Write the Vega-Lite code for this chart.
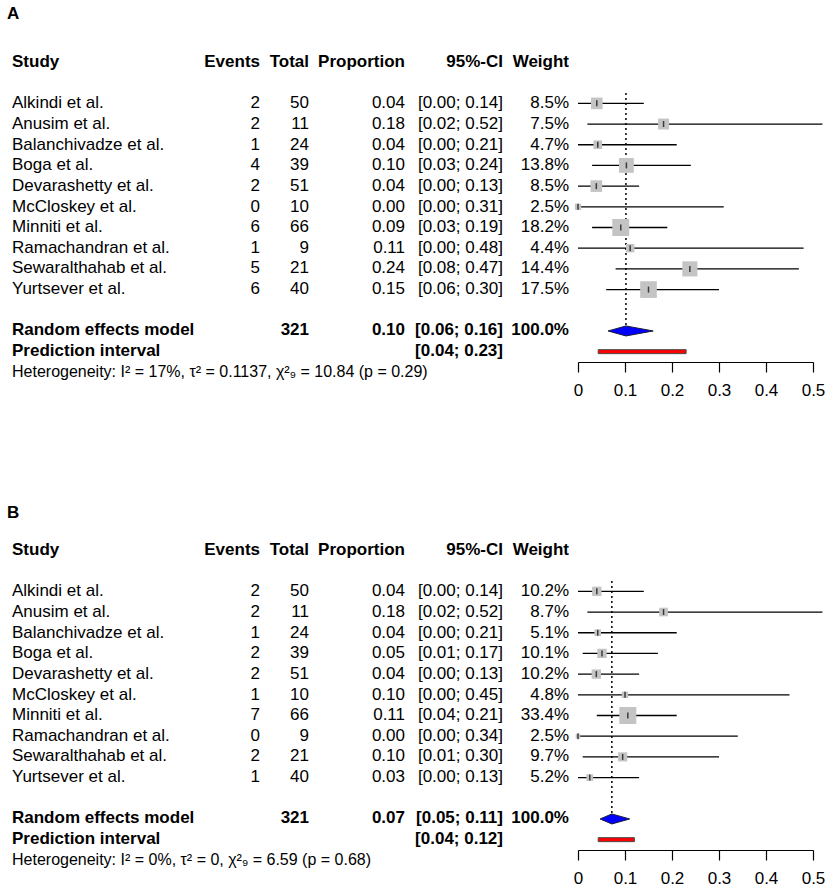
{
  "$schema": "https://vega.github.io/schema/vega-lite/v6.json",
  "padding": {"left": 7, "top": 5, "right": 5, "bottom": 5},
  "background": "white",
  "config": {
    "view": {"stroke": null},
    "text": {"font": "Liberation Sans", "fontSize": 17, "baseline": "middle", "color": "black"},
    "title": {"font": "Liberation Sans", "fontSize": 17, "fontWeight": "bold", "color": "black"}
  },
  "datasets": {
    "rows": [
      {"panel": "A", "row": 2, "kind": "study", "label": "Alkindi et al.", "events": 2, "total": 50, "prop": 0.04, "lo": 0.0, "hi": 0.14, "weight": 0.085},
      {"panel": "A", "row": 3, "kind": "study", "label": "Anusim et al.", "events": 2, "total": 11, "prop": 0.182, "lo": 0.02, "hi": 0.52, "weight": 0.075},
      {"panel": "A", "row": 4, "kind": "study", "label": "Balanchivadze et al.", "events": 1, "total": 24, "prop": 0.042, "lo": 0.0, "hi": 0.21, "weight": 0.047},
      {"panel": "A", "row": 5, "kind": "study", "label": "Boga et al.", "events": 4, "total": 39, "prop": 0.103, "lo": 0.03, "hi": 0.24, "weight": 0.138},
      {"panel": "A", "row": 6, "kind": "study", "label": "Devarashetty et al.", "events": 2, "total": 51, "prop": 0.039, "lo": 0.0, "hi": 0.13, "weight": 0.085},
      {"panel": "A", "row": 7, "kind": "study", "label": "McCloskey et al.", "events": 0, "total": 10, "prop": 0.0, "lo": 0.0, "hi": 0.31, "weight": 0.025},
      {"panel": "A", "row": 8, "kind": "study", "label": "Minniti et al.", "events": 6, "total": 66, "prop": 0.091, "lo": 0.03, "hi": 0.19, "weight": 0.182},
      {"panel": "A", "row": 9, "kind": "study", "label": "Ramachandran et al.", "events": 1, "total": 9, "prop": 0.111, "lo": 0.0, "hi": 0.48, "weight": 0.044},
      {"panel": "A", "row": 10, "kind": "study", "label": "Sewaralthahab et al.", "events": 5, "total": 21, "prop": 0.238, "lo": 0.08, "hi": 0.47, "weight": 0.144},
      {"panel": "A", "row": 11, "kind": "study", "label": "Yurtsever et al.", "events": 6, "total": 40, "prop": 0.15, "lo": 0.06, "hi": 0.30, "weight": 0.175},
      {"panel": "A", "row": 13, "kind": "model", "label": "Random effects model", "total": 321, "prop": 0.102, "lo": 0.064, "hi": 0.16, "weight": 1.0},
      {"panel": "A", "row": 14, "kind": "pi", "label": "Prediction interval", "lo": 0.043, "hi": 0.23},
      {"panel": "A", "row": 15, "kind": "het", "label": "Heterogeneity: I² = 17%, τ² = 0.1137, χ²₉ = 10.84 (p = 0.29)"},
      {"panel": "B", "row": 2, "kind": "study", "label": "Alkindi et al.", "events": 2, "total": 50, "prop": 0.04, "lo": 0.0, "hi": 0.14, "weight": 0.102},
      {"panel": "B", "row": 3, "kind": "study", "label": "Anusim et al.", "events": 2, "total": 11, "prop": 0.182, "lo": 0.02, "hi": 0.52, "weight": 0.087},
      {"panel": "B", "row": 4, "kind": "study", "label": "Balanchivadze et al.", "events": 1, "total": 24, "prop": 0.042, "lo": 0.0, "hi": 0.21, "weight": 0.051},
      {"panel": "B", "row": 5, "kind": "study", "label": "Boga et al.", "events": 2, "total": 39, "prop": 0.051, "lo": 0.01, "hi": 0.17, "weight": 0.101},
      {"panel": "B", "row": 6, "kind": "study", "label": "Devarashetty et al.", "events": 2, "total": 51, "prop": 0.039, "lo": 0.0, "hi": 0.13, "weight": 0.102},
      {"panel": "B", "row": 7, "kind": "study", "label": "McCloskey et al.", "events": 1, "total": 10, "prop": 0.10, "lo": 0.0, "hi": 0.45, "weight": 0.048},
      {"panel": "B", "row": 8, "kind": "study", "label": "Minniti et al.", "events": 7, "total": 66, "prop": 0.106, "lo": 0.04, "hi": 0.21, "weight": 0.334},
      {"panel": "B", "row": 9, "kind": "study", "label": "Ramachandran et al.", "events": 0, "total": 9, "prop": 0.0, "lo": 0.0, "hi": 0.34, "weight": 0.025},
      {"panel": "B", "row": 10, "kind": "study", "label": "Sewaralthahab et al.", "events": 2, "total": 21, "prop": 0.095, "lo": 0.01, "hi": 0.30, "weight": 0.097},
      {"panel": "B", "row": 11, "kind": "study", "label": "Yurtsever et al.", "events": 1, "total": 40, "prop": 0.025, "lo": 0.0, "hi": 0.13, "weight": 0.052},
      {"panel": "B", "row": 13, "kind": "model", "label": "Random effects model", "total": 321, "prop": 0.072, "lo": 0.047, "hi": 0.11, "weight": 1.0},
      {"panel": "B", "row": 14, "kind": "pi", "label": "Prediction interval", "lo": 0.043, "hi": 0.12},
      {"panel": "B", "row": 15, "kind": "het", "label": "Heterogeneity: I² = 0%, τ² = 0, χ²₉ = 6.59 (p = 0.68)"}
    ]
  },
  "data": {"name": "rows"},
  "spacing": 106,
  "resolve": {"scale": {"size": "independent"}, "legend": {"size": "independent"}},
  "vconcat": [
    {
      "title": {"text": "A", "anchor": "start", "dx": -5, "offset": 30},
      "transform": [{"filter": "datum.panel == 'A'"}],
      "spacing": 0,
      "bounds": "flush",
      "hconcat": [
        {
          "width": 188, "height": 289,
          "title": {"text": "Study", "anchor": "start", "offset": 22},
          "mark": {"type": "text", "align": "left", "fontWeight": {"expr": "datum.kind == 'model' || datum.kind == 'pi' ? 'bold' : 'normal'"}, "fontSize": {"expr": "datum.kind == 'het' ? 16 : 17"}},
          "encoding": {
            "x": {"datum": 0, "type": "quantitative", "scale": {"domain": [0, 1]}, "axis": null},
            "y": {"field": "row", "type": "quantitative", "scale": {"domain": [1.5, 15.5], "reverse": true, "nice": false, "zero": false}, "axis": null},
            "text": {"field": "label", "type": "nominal"}
          }
        },
        {
          "width": 60, "height": 289,
          "title": {"text": "Events", "anchor": "end", "offset": 22},
          "transform": [{"filter": "isValid(datum.events)"}],
          "mark": {"type": "text", "align": "right"},
          "encoding": {
            "x": {"datum": 1, "type": "quantitative", "scale": {"domain": [0, 1]}, "axis": null},
            "y": {"field": "row", "type": "quantitative", "scale": {"domain": [1.5, 15.5], "reverse": true, "nice": false, "zero": false}, "axis": null},
            "text": {"field": "events", "type": "nominal"}
          }
        },
        {
          "width": 49, "height": 289,
          "title": {"text": "Total", "anchor": "end", "offset": 22},
          "transform": [{"filter": "isValid(datum.total)"}],
          "mark": {"type": "text", "align": "right", "fontWeight": {"expr": "datum.kind == 'study' ? 'normal' : 'bold'"}},
          "encoding": {
            "x": {"datum": 1, "type": "quantitative", "scale": {"domain": [0, 1]}, "axis": null},
            "y": {"field": "row", "type": "quantitative", "scale": {"domain": [1.5, 15.5], "reverse": true, "nice": false, "zero": false}, "axis": null},
            "text": {"field": "total", "type": "nominal"}
          }
        },
        {
          "width": 96, "height": 289,
          "title": {"text": "Proportion", "anchor": "end", "offset": 22},
          "transform": [{"filter": "datum.kind == 'study' || datum.kind == 'model'"}],
          "mark": {"type": "text", "align": "right", "fontWeight": {"expr": "datum.kind == 'study' ? 'normal' : 'bold'"}},
          "encoding": {
            "x": {"datum": 1, "type": "quantitative", "scale": {"domain": [0, 1]}, "axis": null},
            "y": {"field": "row", "type": "quantitative", "scale": {"domain": [1.5, 15.5], "reverse": true, "nice": false, "zero": false}, "axis": null},
            "text": {"field": "prop", "type": "quantitative", "format": ".2f"}
          }
        },
        {
          "width": 98, "height": 289,
          "title": {"text": "95%-CI", "anchor": "end", "offset": 22},
          "transform": [
            {"filter": "isValid(datum.lo)"},
            {"calculate": "'[' + format(datum.lo, '.2f') + '; ' + format(datum.hi, '.2f') + ']'", "as": "ci"}
          ],
          "mark": {"type": "text", "align": "right", "fontWeight": {"expr": "datum.kind == 'study' ? 'normal' : 'bold'"}},
          "encoding": {
            "x": {"datum": 1, "type": "quantitative", "scale": {"domain": [0, 1]}, "axis": null},
            "y": {"field": "row", "type": "quantitative", "scale": {"domain": [1.5, 15.5], "reverse": true, "nice": false, "zero": false}, "axis": null},
            "text": {"field": "ci", "type": "nominal"}
          }
        },
        {
          "width": 75, "height": 289,
          "title": {"text": "Weight", "anchor": "end", "offset": 22, "dx": -9},
          "transform": [{"filter": "isValid(datum.weight)"}],
          "mark": {"type": "text", "align": "right", "dx": -9, "fontWeight": {"expr": "datum.kind == 'study' ? 'normal' : 'bold'"}},
          "encoding": {
            "x": {"datum": 1, "type": "quantitative", "scale": {"domain": [0, 1]}, "axis": null},
            "y": {"field": "row", "type": "quantitative", "scale": {"domain": [1.5, 15.5], "reverse": true, "nice": false, "zero": false}, "axis": null},
            "text": {"field": "weight", "type": "quantitative", "format": ".1%"}
          }
        },
        {
          "width": 235, "height": 269,
          "encoding": {
            "y": {"field": "row", "type": "quantitative", "scale": {"domain": [1.5, 14.5], "reverse": true, "nice": false, "zero": false}, "axis": null}
          },
          "layer": [
            {
              "transform": [{"filter": "datum.kind == 'model'"}],
              "mark": {"type": "rule", "color": "black", "strokeWidth": 1.5, "strokeDash": [2, 3]},
              "encoding": {
                "x": {"field": "prop", "type": "quantitative", "scale": {"domain": [0, 0.5], "nice": false, "zero": false},
                  "axis": {"values": [0, 0.1, 0.2, 0.3, 0.4, 0.5], "format": "~g", "title": null, "grid": false, "tickSize": 10, "tickWidth": 1.2, "domainWidth": 1.2, "labelFontSize": 17, "labelFont": "Liberation Sans", "labelColor": "black", "domainColor": "black", "tickColor": "black", "labelPadding": 10, "labelFlush": false, "labelOverlap": false}},
                "y": {"datum": 1.5, "type": "quantitative"},
                "y2": {"field": "row"}
              }
            },
            {
              "transform": [{"filter": "datum.kind == 'study'"}],
              "mark": {"type": "rule", "color": "black", "strokeWidth": 1.3},
              "encoding": {"x": {"field": "lo", "type": "quantitative"}, "x2": {"field": "hi"}}
            },
            {
              "transform": [{"filter": "datum.kind == 'study'"}],
              "mark": {"type": "point", "shape": "square", "filled": true, "color": "#c4c4c4", "opacity": 1},
              "encoding": {
                "x": {"field": "prop", "type": "quantitative"},
                "size": {"field": "weight", "type": "quantitative", "scale": {"domain": [0, 0.182], "range": [0, 289]}, "legend": null}
              }
            },
            {
              "transform": [{"filter": "datum.kind == 'study'"}],
              "mark": {"type": "tick", "orient": "vertical", "size": 6, "thickness": 1.5, "color": "black"},
              "encoding": {"x": {"field": "prop", "type": "quantitative"}}
            },
            {
              "transform": [{"filter": "datum.kind == 'model'"}, {"fold": ["lo", "prop", "hi"], "as": ["vertex", "xv"]}],
              "mark": {"type": "area", "orient": "vertical", "fill": "#0000ff", "stroke": "#1a1a3a", "strokeWidth": 1, "yOffset": {"expr": "datum.vertex == 'prop' ? -5 : 0"}, "y2Offset": {"expr": "datum.vertex == 'prop' ? 5 : 0"}},
              "encoding": {"x": {"field": "xv", "type": "quantitative"}, "y2": {"field": "row"}}
            },
            {
              "transform": [{"filter": "datum.kind == 'pi'"}],
              "mark": {"type": "rect", "fill": "#ff0000", "stroke": "#4a4a4a", "strokeWidth": 1, "yOffset": -2, "y2Offset": 2},
              "encoding": {"x": {"field": "lo", "type": "quantitative"}, "x2": {"field": "hi"}, "y2": {"field": "row"}}
            }
          ]
        }
      ]
    },
    {
      "title": {"text": "B", "anchor": "start", "dx": -5, "offset": 19},
      "transform": [{"filter": "datum.panel == 'B'"}],
      "spacing": 0,
      "bounds": "flush",
      "hconcat": [
        {
          "width": 188, "height": 289,
          "title": {"text": "Study", "anchor": "start", "offset": 22},
          "mark": {"type": "text", "align": "left", "fontWeight": {"expr": "datum.kind == 'model' || datum.kind == 'pi' ? 'bold' : 'normal'"}, "fontSize": {"expr": "datum.kind == 'het' ? 16 : 17"}},
          "encoding": {
            "x": {"datum": 0, "type": "quantitative", "scale": {"domain": [0, 1]}, "axis": null},
            "y": {"field": "row", "type": "quantitative", "scale": {"domain": [1.5, 15.5], "reverse": true, "nice": false, "zero": false}, "axis": null},
            "text": {"field": "label", "type": "nominal"}
          }
        },
        {
          "width": 60, "height": 289,
          "title": {"text": "Events", "anchor": "end", "offset": 22},
          "transform": [{"filter": "isValid(datum.events)"}],
          "mark": {"type": "text", "align": "right"},
          "encoding": {
            "x": {"datum": 1, "type": "quantitative", "scale": {"domain": [0, 1]}, "axis": null},
            "y": {"field": "row", "type": "quantitative", "scale": {"domain": [1.5, 15.5], "reverse": true, "nice": false, "zero": false}, "axis": null},
            "text": {"field": "events", "type": "nominal"}
          }
        },
        {
          "width": 49, "height": 289,
          "title": {"text": "Total", "anchor": "end", "offset": 22},
          "transform": [{"filter": "isValid(datum.total)"}],
          "mark": {"type": "text", "align": "right", "fontWeight": {"expr": "datum.kind == 'study' ? 'normal' : 'bold'"}},
          "encoding": {
            "x": {"datum": 1, "type": "quantitative", "scale": {"domain": [0, 1]}, "axis": null},
            "y": {"field": "row", "type": "quantitative", "scale": {"domain": [1.5, 15.5], "reverse": true, "nice": false, "zero": false}, "axis": null},
            "text": {"field": "total", "type": "nominal"}
          }
        },
        {
          "width": 96, "height": 289,
          "title": {"text": "Proportion", "anchor": "end", "offset": 22},
          "transform": [{"filter": "datum.kind == 'study' || datum.kind == 'model'"}],
          "mark": {"type": "text", "align": "right", "fontWeight": {"expr": "datum.kind == 'study' ? 'normal' : 'bold'"}},
          "encoding": {
            "x": {"datum": 1, "type": "quantitative", "scale": {"domain": [0, 1]}, "axis": null},
            "y": {"field": "row", "type": "quantitative", "scale": {"domain": [1.5, 15.5], "reverse": true, "nice": false, "zero": false}, "axis": null},
            "text": {"field": "prop", "type": "quantitative", "format": ".2f"}
          }
        },
        {
          "width": 98, "height": 289,
          "title": {"text": "95%-CI", "anchor": "end", "offset": 22},
          "transform": [
            {"filter": "isValid(datum.lo)"},
            {"calculate": "'[' + format(datum.lo, '.2f') + '; ' + format(datum.hi, '.2f') + ']'", "as": "ci"}
          ],
          "mark": {"type": "text", "align": "right", "fontWeight": {"expr": "datum.kind == 'study' ? 'normal' : 'bold'"}},
          "encoding": {
            "x": {"datum": 1, "type": "quantitative", "scale": {"domain": [0, 1]}, "axis": null},
            "y": {"field": "row", "type": "quantitative", "scale": {"domain": [1.5, 15.5], "reverse": true, "nice": false, "zero": false}, "axis": null},
            "text": {"field": "ci", "type": "nominal"}
          }
        },
        {
          "width": 75, "height": 289,
          "title": {"text": "Weight", "anchor": "end", "offset": 22, "dx": -9},
          "transform": [{"filter": "isValid(datum.weight)"}],
          "mark": {"type": "text", "align": "right", "dx": -9, "fontWeight": {"expr": "datum.kind == 'study' ? 'normal' : 'bold'"}},
          "encoding": {
            "x": {"datum": 1, "type": "quantitative", "scale": {"domain": [0, 1]}, "axis": null},
            "y": {"field": "row", "type": "quantitative", "scale": {"domain": [1.5, 15.5], "reverse": true, "nice": false, "zero": false}, "axis": null},
            "text": {"field": "weight", "type": "quantitative", "format": ".1%"}
          }
        },
        {
          "width": 235, "height": 269,
          "encoding": {
            "y": {"field": "row", "type": "quantitative", "scale": {"domain": [1.5, 14.5], "reverse": true, "nice": false, "zero": false}, "axis": null}
          },
          "layer": [
            {
              "transform": [{"filter": "datum.kind == 'model'"}],
              "mark": {"type": "rule", "color": "black", "strokeWidth": 1.5, "strokeDash": [2, 3]},
              "encoding": {
                "x": {"field": "prop", "type": "quantitative", "scale": {"domain": [0, 0.5], "nice": false, "zero": false},
                  "axis": {"values": [0, 0.1, 0.2, 0.3, 0.4, 0.5], "format": "~g", "title": null, "grid": false, "tickSize": 10, "tickWidth": 1.2, "domainWidth": 1.2, "labelFontSize": 17, "labelFont": "Liberation Sans", "labelColor": "black", "domainColor": "black", "tickColor": "black", "labelPadding": 10, "labelFlush": false, "labelOverlap": false}},
                "y": {"datum": 1.5, "type": "quantitative"},
                "y2": {"field": "row"}
              }
            },
            {
              "transform": [{"filter": "datum.kind == 'study'"}],
              "mark": {"type": "rule", "color": "black", "strokeWidth": 1.3},
              "encoding": {"x": {"field": "lo", "type": "quantitative"}, "x2": {"field": "hi"}}
            },
            {
              "transform": [{"filter": "datum.kind == 'study'"}],
              "mark": {"type": "point", "shape": "square", "filled": true, "color": "#c4c4c4", "opacity": 1},
              "encoding": {
                "x": {"field": "prop", "type": "quantitative"},
                "size": {"field": "weight", "type": "quantitative", "scale": {"domain": [0, 0.334], "range": [0, 289]}, "legend": null}
              }
            },
            {
              "transform": [{"filter": "datum.kind == 'study'"}],
              "mark": {"type": "tick", "orient": "vertical", "size": 6, "thickness": 1.5, "color": "black"},
              "encoding": {"x": {"field": "prop", "type": "quantitative"}}
            },
            {
              "transform": [{"filter": "datum.kind == 'model'"}, {"fold": ["lo", "prop", "hi"], "as": ["vertex", "xv"]}],
              "mark": {"type": "area", "orient": "vertical", "fill": "#0000ff", "stroke": "#1a1a3a", "strokeWidth": 1, "yOffset": {"expr": "datum.vertex == 'prop' ? -5 : 0"}, "y2Offset": {"expr": "datum.vertex == 'prop' ? 5 : 0"}},
              "encoding": {"x": {"field": "xv", "type": "quantitative"}, "y2": {"field": "row"}}
            },
            {
              "transform": [{"filter": "datum.kind == 'pi'"}],
              "mark": {"type": "rect", "fill": "#ff0000", "stroke": "#4a4a4a", "strokeWidth": 1, "yOffset": -2, "y2Offset": 2},
              "encoding": {"x": {"field": "lo", "type": "quantitative"}, "x2": {"field": "hi"}, "y2": {"field": "row"}}
            }
          ]
        }
      ]
    }
  ]
}
